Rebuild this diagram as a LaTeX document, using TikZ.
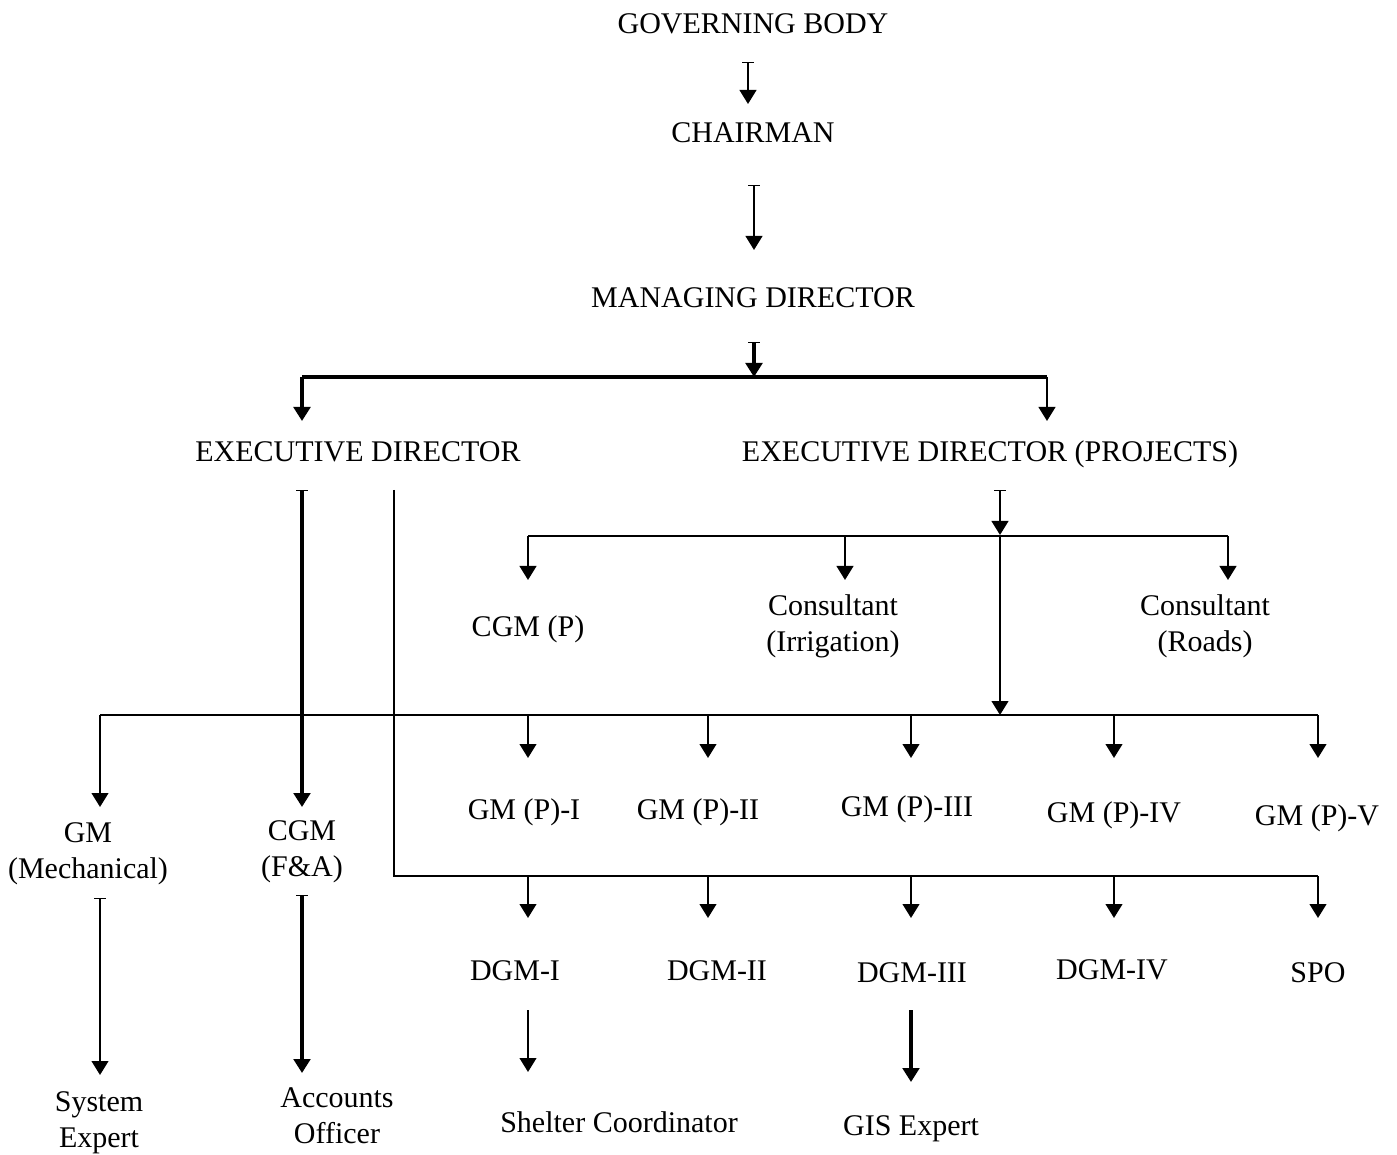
\documentclass[tikz,border=0pt]{standalone}
\usepackage{fontspec}
\setmainfont{Liberation Serif}
\usetikzlibrary{arrows.meta}
\begin{document}
\begin{tikzpicture}[x=0.75pt,y=-0.75pt,
  lbl/.style={font=\fontsize{22.5}{27}\selectfont, inner sep=0pt, align=center},
  ln/.style={line width=1.7pt},
  heavy/.style={line width=2.4pt},
  tip/.style={-{Triangle[width=12.5pt,length=10.5pt]}},
  tee/.style={{Bar[width=9pt,line width=1pt]}-{Triangle[width=12.5pt,length=10.5pt]}}]
\useasboundingbox (0,0) rectangle (1397,1155);
% nodes
\node[lbl,anchor=base] (gb) at (753,34) {GOVERNING BODY};
\node[lbl,anchor=base] (ch) at (753,143) {CHAIRMAN};
\node[lbl,anchor=base] (md) at (753,308) {MANAGING DIRECTOR};
\node[lbl,anchor=base] (ed) at (358,462) {EXECUTIVE DIRECTOR};
\node[lbl,anchor=base] (edp) at (990,462) {EXECUTIVE DIRECTOR (PROJECTS)};
\node[lbl,anchor=base] (cgmp) at (528,637) {CGM (P)};
\node[lbl,anchor=north] (coni) at (833,594) {Consultant\\(Irrigation)};
\node[lbl,anchor=north] (conr) at (1205,594) {Consultant\\(Roads)};
\node[lbl,anchor=base] (gm1) at (524,819) {GM (P)-I};
\node[lbl,anchor=base] (gm2) at (698,819) {GM (P)-II};
\node[lbl,anchor=base] (gm3) at (907,816) {GM (P)-III};
\node[lbl,anchor=base] (gm4) at (1114,822) {GM (P)-IV};
\node[lbl,anchor=base] (gm5) at (1317,825) {GM (P)-V};
\node[lbl,anchor=north] (gmm) at (88,822) {GM\\(Mechanical)};
\node[lbl,anchor=north] (cgmfa) at (302,820) {CGM\\(F\&A)};
\node[lbl,anchor=base] (dgm1) at (515,980) {DGM-I};
\node[lbl,anchor=base] (dgm2) at (717,980) {DGM-II};
\node[lbl,anchor=base] (dgm3) at (912,982) {DGM-III};
\node[lbl,anchor=base] (dgm4) at (1112,979) {DGM-IV};
\node[lbl,anchor=base] (spo) at (1318,982) {SPO};
\node[lbl,anchor=north] (se) at (99,1091) {System\\Expert};
\node[lbl,anchor=north] (ao) at (337,1087) {Accounts\\Officer};
\node[lbl,anchor=base] (sc) at (619,1132) {Shelter Coordinator};
\node[lbl,anchor=base] (gis) at (911,1135) {GIS Expert};
% junction coordinates
\coordinate (j1) at (754,377);
\coordinate (j1l) at (302,377);
\coordinate (j1r) at (1047,377);
\coordinate (j2) at (1000,536);
\coordinate (j2l) at (528,536);
\coordinate (j2r) at (1228,536);
\coordinate (j3) at (1000,715);
\coordinate (j3l) at (100,715);
\coordinate (j3r) at (1318,715);
\coordinate (j4) at (394,876);
\coordinate (j4r) at (1318,876);
% top chain
\draw[ln,tee] (748,62) -- (748,104);
\draw[ln,tee] (754,185) -- (754,250);
\draw[heavy,tee] (754,342) -- (j1);
\draw[heavy] (j1l) -- (j1r);
\draw[heavy,tip] (j1l) -- (302,421);
\draw[ln,tip] (j1r) -- (1047,421);
% ED branches
\draw[heavy,tee] (302,490) -- (302,807);
\draw[ln] (394,490) -- (j4) -- (j4r);
\foreach \x in {528,708,911,1114} \draw[ln,tip] (\x,876) -- (\x,918);
\draw[ln,tip] (j4r) -- (1318,918);
% EDP branches
\draw[ln,tee] (1000,490) -- (1000,535);
\draw[ln] (j2l) -- (j2r);
\draw[ln,tip] (j2l) -- (528,580);
\draw[ln,tip] (845,536) -- (845,580);
\draw[ln,tip] (j2r) -- (1228,580);
\draw[ln,tip] (j2) -- (j3);
\draw[ln] (j3l) -- (j3r);
\draw[ln,tip] (j3l) -- (100,807);
\foreach \x in {528,708,911,1114} \draw[ln,tip] (\x,715) -- (\x,758);
\draw[ln,tip] (j3r) -- (1318,758);
% bottom
\draw[ln,tee] (100,898) -- (100,1075);
\draw[heavy,tee] (302,895) -- (302,1073);
\draw[ln,tip] (528,1010) -- (528,1072);
\draw[heavy,tip] (911,1010) -- (911,1082);
\end{tikzpicture}
\end{document}
